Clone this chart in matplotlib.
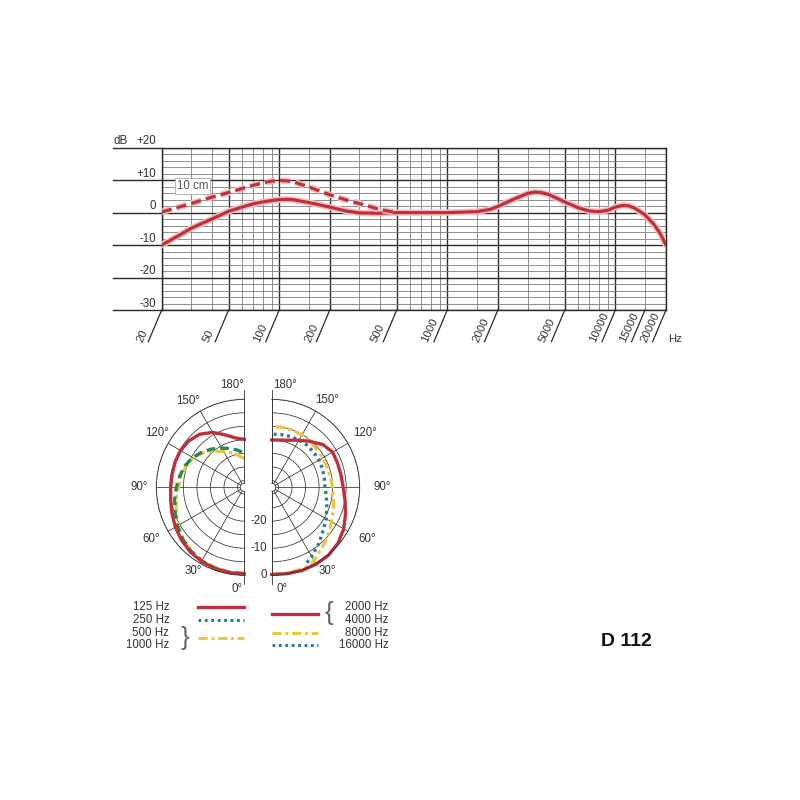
import numpy as np
import matplotlib
matplotlib.use('Agg')
import matplotlib.pyplot as plt
import matplotlib.transforms as mtransforms
import matplotlib.patheffects as pe

plt.rcParams['font.family'] = ['Liberation Sans', 'DejaVu Sans']

# ---------------- data ----------------
# frequency response (far field, solid)
freq_solid = [20, 25, 30, 40, 50, 60, 70, 80, 90, 100, 110, 120, 150, 200, 250,
              300, 400, 500, 700, 1000, 1500, 1800, 2000, 2500, 3000, 3300, 3600,
              4000, 5000, 6000, 7000, 8000, 9000, 10000, 11000, 12000, 13000,
              15000, 17000, 18500, 20000]
db_solid = [-10, -7.2, -4.8, -1.9, 0.4, 1.7, 2.7, 3.3, 3.7, 4.0, 4.1, 4.0, 3.1, 1.7, 0.5,
            -0.1, -0.2, 0, 0, 0, 0.3, 1.0, 1.9, 4.2, 5.9, 6.3, 6.2,
            5.6, 3.3, 1.5, 0.5, 0.3, 0.7, 1.7, 2.2, 2.1, 1.4,
            -0.7, -3.7, -6.5, -10]
# near field 10 cm (dashed)
freq_10cm = [20, 25, 30, 40, 50, 60, 70, 80, 90, 100, 110, 120, 150, 200, 250, 300, 400, 500]
db_10cm = [0.2, 1.6, 2.8, 4.8, 6.2, 7.4, 8.4, 9.2, 9.7, 9.9, 9.8, 9.6, 7.9, 5.5, 3.9, 2.8, 0.9, 0]

freq_major = [20, 50, 100, 200, 500, 1000, 2000, 5000, 10000, 20000]
freq_minor = [30, 40, 60, 70, 80, 90, 150, 300, 400, 600, 700, 800, 900, 1500,
              3000, 4000, 6000, 7000, 8000, 9000, 15000]
freq_labels = [20, 50, 100, 200, 500, 1000, 2000, 5000, 10000, 15000, 20000]
db_labels = ['+20', '+10', '0', '-10', '-20', '-30']
db_label_values = [20, 10, 0, -10, -20, -30]

# polar patterns (angle in degrees, level in dB)
ang_10 = [0, 10, 20, 30, 40, 50, 60, 70, 80, 90, 100, 110, 120, 130, 140, 150, 160, 170, 180]
db_125 = [-0.5, -0.5, -0.6, -0.9, -1.4, -2.2, -3.1, -4.1, -4.9, -5.3, -5.4, -5.3, -5.3,
          -5.8, -6.9, -9.1, -11.9, -14.0, -14.8]
db_250 = [-0.6, -0.6, -0.8, -1.1, -1.8, -2.8, -4.0, -5.3, -6.4, -7.4, -8.3, -9.2, -10.5,
          -12.2, -14.0, -15.8, -17.2, -18.6, -19.9]
db_500 = [-0.7, -0.7, -0.9, -1.2, -1.9, -3.0, -4.3, -5.7, -7.0, -8.1, -8.9, -9.6, -10.6,
          -12.7, -15.2, -17.3, -19.0, -20.6, -21.8]
db_2000 = [-0.3, -0.1, 0.2, 0.3, 0.2, -0.5, -1.8, -3.5, -5.0, -6.1, -6.5, -6.6, -6.5,
           -7.9, -10.4, -12.4, -14.0, -14.8, -15.0]
ang_8000 = [0, 10, 20, 26, 30, 35, 40, 47, 55, 61, 70, 78, 90, 100, 110, 120, 130, 140,
            150, 160, 170, 180]
db_8000 = [-0.4, -0.3, -0.3, -0.4, -1.2, -2.6, -3.5, -4.7, -6.2, -7.2, -8.3, -9.2, -10.0,
           -10.5, -10.7, -10.8, -10.7, -10.4, -10.2, -10.1, -10.0, -10.0]
ang_16000 = [25, 30, 40, 50, 60, 70, 80, 90, 100, 110, 120, 130, 140, 150, 160, 170, 180]
db_16000 = [-1.8, -3.0, -5.4, -7.7, -9.3, -10.8, -12.0, -12.8, -12.8, -12.5, -12.4, -12.3,
            -12.2, -12.4, -12.5, -12.7, -12.9]

ring_levels = [-30, -25, -20, -15, -10, -5, 0]
ring_labels = ['0', '-10', '-20']
ring_label_values = [0, -10, -20]
angle_ticks = [0, 30, 60, 90, 120, 150, 180]

RED = '#c0303c'
GREEN = '#1e8c4e'
YELLOW = '#ecc63a'
BLUE = '#2a78a6'
GRID_DARK = '#2a2a2a'
GRID_LIGHT = '#7c7c7c'
TXT = '#333333'

W = H = 800.0
fig = plt.figure(figsize=(8, 8), dpi=100)
fig.patch.set_facecolor('white')

def frect(x0, y0, x1, y1):
    return [x0 / W, 1 - y1 / H, (x1 - x0) / W, (y1 - y0) / H]

# ---------------- frequency response ----------------
ax = fig.add_axes(frect(161.7, 147.7, 666.0, 310.0))
ax.set_xscale('log')
ax.set_xlim(20, 20000)
ax.set_ylim(-30, 20)
ax.set_xticks(freq_major)
ax.set_xticks(freq_minor, minor=True)
ax.set_yticks(np.arange(-30, 21, 10))
ax.set_yticks(np.arange(-30, 21, 2), minor=True)
ax.tick_params(which='both', length=0, labelbottom=False, labelleft=False)
ax.grid(which='major', color=GRID_DARK, lw=1.0)
ax.grid(which='minor', color=GRID_LIGHT, lw=0.6)
for s in ax.spines.values():
    s.set_color(GRID_DARK)
    s.set_linewidth(1.0)

bl_y = mtransforms.blended_transform_factory(ax.transAxes, ax.transData)
bl_x = mtransforms.blended_transform_factory(ax.transData, ax.transAxes)
ext = (113 - 161.7) / 504.3
for v, lab in zip(db_label_values, db_labels):
    ax.plot([ext, 0], [v, v], transform=bl_y, color=GRID_DARK, lw=1.0, clip_on=False)
    ax.text(-0.011, v + 1.0, lab, transform=bl_y, ha='right', va='baseline',
            fontsize=8.3, color=TXT)
ax.text((114 - 161.7) / 504.3, 21.0, 'dB', transform=bl_y, ha='left', va='baseline',
        fontsize=8.3, color=TXT)

px_dec = 504.3 / 3.0
for f in freq_labels:
    f_low = f * 10 ** (-13.4 / px_dec)
    ax.plot([f, f_low], [0, -31.7 / 162.3], transform=bl_x, color=GRID_DARK, lw=0.9,
            clip_on=False)
    ax.text(f * 10 ** (-18.0 / px_dec), -33.5 / 162.3, str(f), transform=bl_x,
            rotation=65, rotation_mode='anchor', ha='left', va='bottom',
            fontsize=8.2, color=TXT)
ax.text(1.005, -29.3 / 162.3, 'Hz', transform=ax.transAxes, ha='left', va='center',
        fontsize=8.2, color=TXT)

halo = [pe.Stroke(linewidth=4.6, foreground='#f2c0c0'), pe.Normal()]
ax.plot(freq_solid, db_solid, color=RED, lw=2.3, solid_capstyle='round',
        path_effects=halo, zorder=5)
ax.plot(freq_10cm, db_10cm, color=RED, lw=2.3, linestyle=(0, (3.2, 1.6)),
        path_effects=halo, zorder=5)
ax.text(24.6, 8.2, '10 cm', ha='left', va='center', fontsize=8.3, color='#555555',
        zorder=6, bbox=dict(facecolor='white', edgecolor='#aaaaaa', lw=0.6, pad=1.2))

# ---------------- polar patterns ----------------
R = 88.0
def half_polar(cx, cy, direction, frac):
    size = 2 * R
    left = cx - frac * size
    pa = fig.add_axes(frect(left, cy - R, left + size, cy + R), projection='polar')
    pa.set_theta_zero_location('S')
    pa.set_theta_direction(direction)
    pa.set_thetamin(0)
    pa.set_thetamax(180)
    pa.set_ylim(-31, 0)
    pa.set_rorigin(-32.5)
    pa.set_xticks(np.deg2rad(angle_ticks))
    pa.set_xticklabels([])
    pa.set_yticks(ring_levels)
    pa.set_yticklabels([])
    pa.tick_params(length=0)
    pa.grid(color='#333333', lw=0.55)
    for s in pa.spines.values():
        s.set_color('#333333')
        s.set_linewidth(0.6)
    for th in (0, np.pi):
        pa.plot([th, th], [0, 3.3], color='#333333', lw=0.6, clip_on=False)
    return pa

pl = half_polar(244.3, 487.3, -1, 0.75)
pr = half_polar(271.7, 487.3, 1, 0.25)

def ang(a):
    return np.deg2rad(a)

DASHDOT = (0, (3, 1.2, 1, 1.2))
pl.plot(ang(ang_10), db_500, color=YELLOW, lw=2.3, linestyle=DASHDOT, clip_on=False)
pl.plot(ang(ang_10), db_250, color=GREEN, lw=2.4, linestyle=(0, (2.6, 1.5)), clip_on=False)
pl.plot(ang(ang_10), db_125, color=RED, lw=2.4, clip_on=False)

pr.plot(ang(ang_8000), db_8000, color=YELLOW, lw=2.3, linestyle=DASHDOT, clip_on=False)
pr.plot(ang(ang_16000), db_16000, color=BLUE, lw=2.4, linestyle=(0, (0.9, 1.1)), clip_on=False)
pr.plot(ang(ang_10), db_2000, color=RED, lw=2.4, clip_on=False)

def rdb(px):
    return px / 2.7 - 32.5

lab_left = [(173, 102.4), (31.4, 98), (60.7, 106), (90, 104.3), (121.8, 102.4), (147, 103), (4.3, 101.3)]
lab_right = [(172.5, 102.6), (33.3, 100.2), (61.3, 108.3), (90, 110), (120, 107.8), (147.6, 102.6), (5.7, 101.5)]
lab_text = ['180°', '30°', '60°', '90°', '120°', '150°', '0°']
for (a, r), t in zip(lab_left, lab_text):
    pl.text(ang(a), rdb(r), t, ha='center', va='center', fontsize=8.3, color=TXT, clip_on=False)
for (a, r), t in zip(lab_right, lab_text):
    pr.text(ang(a), rdb(r), t, ha='center', va='center', fontsize=8.3, color=TXT, clip_on=False)
for v, t in zip(ring_label_values, ring_labels):
    pr.annotate(t, xy=(0, v), xytext=(-3.4, 0), textcoords='offset points',
                ha='right', va='center', fontsize=8.3, color=TXT, annotation_clip=False)

# ---------------- legend & title ----------------
ov = fig.add_axes([0, 0, 1, 1])
ov.set_xlim(0, W)
ov.set_ylim(H, 0)
ov.axis('off')

left_names = ['125 Hz', '250 Hz', '500 Hz', '1000 Hz']
left_y = [606.7, 620, 633.3, 645]
for n, y in zip(left_names, left_y):
    ov.text(169.3, y, n, ha='right', va='center', fontsize=8.3, color=TXT)
ov.plot([197.7, 244], [606.7, 606.7], color=RED, lw=2.4)
ov.plot([197.7, 244], [620, 620], color=GREEN, lw=2.2, linestyle=(0, (0.9, 1.2)))
ov.plot([197.7, 244], [638.3, 638.3], color=YELLOW, lw=2.2, linestyle=DASHDOT)
ov.text(185, 638.5, '}', ha='center', va='center', fontsize=19, color='#666666')

right_names = ['2000 Hz', '4000 Hz', '8000 Hz', '16000 Hz']
right_y = [606.7, 620, 632.7, 645]
for n, y in zip(right_names, right_y):
    ov.text(388.3, y, n, ha='right', va='center', fontsize=8.3, color=TXT)
ov.plot([271.7, 318.3], [614, 614], color=RED, lw=2.4)
ov.plot([271.7, 318.3], [632.7, 632.7], color=YELLOW, lw=2.2, linestyle=DASHDOT)
ov.plot([271.7, 318.3], [645, 645], color=BLUE, lw=2.2, linestyle=(0, (0.9, 1.2)))
ov.text(329, 613, '{', ha='center', va='center', fontsize=19, color='#666666')

ov.text(626, 641.7, 'D 112', ha='center', va='center', fontsize=14, fontweight='bold',
        color='#111111')

fig.savefig('out.png', dpi=100, facecolor='white')
